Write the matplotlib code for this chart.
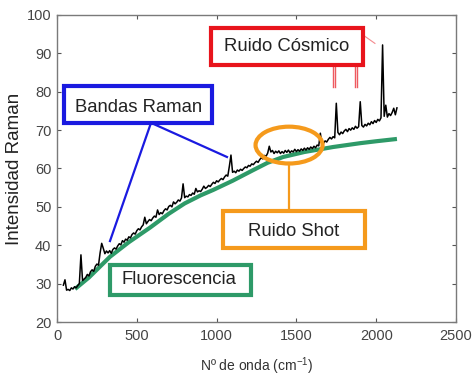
import numpy as np
import matplotlib
matplotlib.use('Agg')
from matplotlib import pyplot as plt
from matplotlib.patches import Rectangle, Ellipse

plt.rcParams['font.family'] = ['Liberation Sans', 'DejaVu Sans']
plt.rcParams['mathtext.fontset'] = 'custom'
plt.rcParams['mathtext.rm'] = 'Liberation Sans'
plt.rcParams['mathtext.default'] = 'regular'

# raman spectrum, sampled every 10 cm-1 from 40 to 2130
wn = np.arange(40, 2140, 10)
intens = [
    29.6, 31.0, 28.3, 28.5, 28.2, 28.9, 28.6, 29.2, 28.9, 29.5,
    30.0, 37.5, 30.8, 31.2, 31.6, 32.4, 32.0, 33.1, 33.6, 33.2,
    34.5, 35.1, 34.8, 38.0, 40.5, 39.2, 37.8, 38.5, 38.0, 38.6,
    37.9, 38.9, 39.3, 39.0, 39.8, 40.4, 40.1, 41.2, 40.8, 41.6,
    41.3, 42.2, 41.9, 42.8, 43.2, 42.9, 43.8, 44.3, 44.0, 44.8,
    45.3, 47.3, 45.6, 46.2, 46.7, 46.4, 47.1, 47.6, 47.3, 49.2,
    48.0, 48.5, 48.2, 49.0, 49.5, 49.2, 50.1, 50.4, 50.0, 51.3,
    50.8, 51.2, 51.8, 51.5, 52.3, 56.0, 52.4, 52.8, 52.6, 53.2,
    53.0, 53.6, 53.3, 54.8, 53.9, 54.2, 54.0, 54.6, 55.4, 54.8,
    55.1, 55.6, 55.3, 55.9, 56.4, 56.1, 56.8, 56.5, 57.0, 57.4,
    57.1, 57.8, 58.3, 58.0, 60.6, 63.5, 59.0, 59.3, 58.9, 59.6,
    59.3, 59.8, 59.5, 60.0, 60.4, 60.2, 60.8, 60.6, 61.2, 61.0,
    61.5, 61.9, 61.6, 62.3, 62.8, 62.5, 63.4, 63.2, 64.0, 65.8,
    64.3, 64.7, 63.9, 64.5, 64.1, 64.6, 63.9, 64.4, 64.0, 64.7,
    64.2, 64.8, 64.1, 64.6, 64.3, 65.0, 64.4, 64.9, 64.5, 65.1,
    64.7, 65.3, 64.8, 65.4, 65.0, 65.6, 65.2, 65.8, 65.4, 66.1,
    65.9, 69.2, 66.3, 66.6, 67.2, 66.9, 67.6, 68.1, 67.7, 68.3,
    68.0, 77.0, 69.4, 68.8, 69.5, 69.1, 69.8, 70.2, 69.6, 70.4,
    70.0, 70.6, 70.2, 71.0, 70.5, 70.9, 77.4, 71.2, 70.8, 71.5,
    71.1, 71.8, 71.4, 72.2, 71.7, 72.5, 72.0, 72.8, 72.4, 73.2,
    92.2, 73.6, 76.5, 73.4, 74.3, 73.8, 74.6, 75.7, 74.0, 75.8,
]

# fluorescence background
fl_wn = [113, 200, 332, 450, 583, 700, 800, 900, 978, 1100, 1230, 1320,
         1417, 1550, 1730, 1900, 2000, 2130]
fl_int = [28.6, 31.6, 37.0, 40.8, 44.6, 48.2, 50.9, 53.0, 54.4, 56.8, 59.6, 61.5,
          63.0, 64.3, 65.6, 66.6, 67.1, 67.7]

GREEN = '#2e9a68'
RED = '#e8141c'
BLUE = '#1a1ae0'
ORANGE = '#f59a1c'

fig = plt.figure(figsize=(4.72, 3.78), dpi=100)
ax = fig.add_axes([57/472, 1-322/378, (456-57)/472, (322-15)/378])

ax.plot(fl_wn, fl_int, color=GREEN, lw=3.0, solid_capstyle='butt', zorder=2)
ax.plot(wn, intens, color='black', lw=1.1, zorder=3)

ax.set_xlim(0, 2500)
ax.set_ylim(20, 100)
ax.set_xticks(range(0, 2501, 500))
ax.set_yticks(range(20, 101, 10))
ax.tick_params(direction='in', length=3, width=0.8, color='#555555',
               labelsize=10.5, labelcolor='#444444', top=True, right=True)
ax.tick_params(axis='x', pad=5)
ax.tick_params(axis='y', pad=4)
for s in ax.spines.values():
    s.set_color('#7a7a7a')
    s.set_linewidth(1.0)

ax.set_ylabel('Intensidad Raman', fontsize=13.5, color='#222222', labelpad=3)
ax.set_xlabel('Nº de onda (cm$^{-1}$)', fontsize=10, color='#333333', labelpad=9)

def box(x0, y0, x1, y1, color, lw=3.0):
    ax.add_patch(Rectangle((x0, y0), x1 - x0, y1 - y0, fill=True, facecolor='white',
                           edgecolor=color, lw=lw, joinstyle='miter', zorder=5))

txt = dict(fontsize=13.3, color='#222222', ha='center', va='center', zorder=6)

# cosmic rays
box(965, 87.0, 1917, 96.6, RED)
ax.text(1441, 91.7, 'Ruido Cósmico', **txt)
for xc in (1736, 1873):
    for dx in (-5, 5):
        ax.plot([xc + dx, xc + dx], [87.0, 81.2], color=RED, lw=1.0, alpha=0.7, zorder=4)
ax.plot([1917, 1992], [94.8, 92.6], color=RED, lw=0.8, alpha=0.5, zorder=4)

# raman bands
ax.plot([589, 332], [71.9, 41.1], color=BLUE, lw=1.6, zorder=4)
ax.plot([589, 1065], [71.9, 63.0], color=BLUE, lw=1.6, zorder=4)
box(44, 71.9, 971, 81.5, BLUE)
ax.text(514, 76.0, 'Bandas Raman', **txt)

# shot noise
ax.add_patch(Ellipse((1454, 66.1), 420, 9.6, fill=False, edgecolor=ORANGE, lw=3.0, zorder=4))
ax.plot([1454, 1454], [61.4, 48.9], color=ORANGE, lw=1.6, zorder=4)
box(1040, 39.3, 1930, 48.9, ORANGE)
ax.text(1485, 43.5, 'Ruido Shot', **txt)

# fluorescence
box(332, 27.0, 1216, 34.9, GREEN)
ax.text(764, 31.0, 'Fluorescencia', **txt)

fig.savefig('out.png', dpi=100)
